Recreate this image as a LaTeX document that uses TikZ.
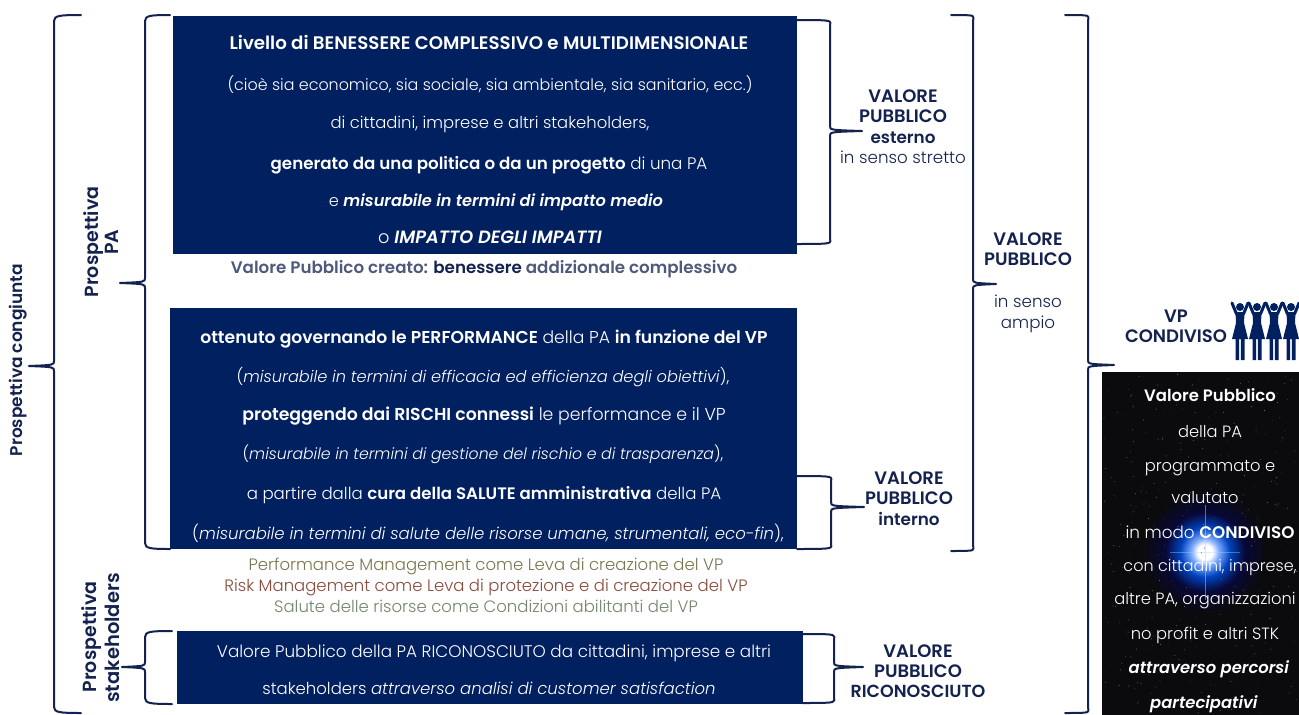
\documentclass[tikz,border=0pt]{standalone}
\usepackage{fontspec}
\setmainfont{Poppins Light}[BoldFont={Poppins SemiBold},ItalicFont={Poppins Light Italic},BoldItalicFont={Poppins SemiBold Italic}]
\usetikzlibrary{shadings,fadings}
\definecolor{navy}{HTML}{002060}
\definecolor{ink}{HTML}{14224F}
\definecolor{mone}{HTML}{7A7650}
\definecolor{mtwo}{HTML}{8A4A3C}
\definecolor{mthree}{HTML}{75866C}
\definecolor{nightbg}{HTML}{0B0B0D}
\pgfdeclareradialshading{glow}{\pgfpoint{0cm}{0cm}}{color(0bp)=(white);color(3bp)=(white);color(5.5bp)=(cyan!35!blue!50!white);color(10bp)=(blue!65!cyan!75!black);color(16bp)=(blue!60!black!30!nightbg);color(25bp)=(nightbg);color(50bp)=(nightbg)}
\tikzset{x=1pt,y=-1pt,
 panel/.style={fill=navy,draw=none},
 brc/.style={draw=ink,line width=2pt,line cap=round,line join=round},
 fs/.style={font=\fontsize{#1}{18}\selectfont},
 base/.style={anchor=base,inner sep=0pt,yshift=-6.5pt},
 wt/.style={base,text=white,fs=16.4},
 lab/.style={base,text=ink,font=\fontsize{18}{18}\selectfont\bfseries},
 sub/.style={base,text=ink,fs=16.7},
 rot/.style={anchor=center,yshift=6.5pt,rotate=90},
 captxt/.style={base,fs=16.5},
 bw/.style={base,text=white,fs=16.3},
 person/.pic={
   \fill[navy] (0,-24) circle (4);
   \fill[navy] (-4.5,-19) -- (4.5,-19) -- (4,-8) -- (8,8) -- (4.5,8) -- (4.5,29) -- (0.9,29) -- (0.9,8) -- (-0.9,8) -- (-0.9,29) -- (-4.5,29) -- (-4.5,8) -- (-8,8) -- (-4,-8) -- cycle;
   \draw[navy,line width=3pt,line cap=round] (-3.5,-17) -- (-8,-28);
   \draw[navy,line width=3pt,line cap=round] (3.5,-17) -- (8,-28);
 }}
\newcommand{\lbrc}[6]{\draw[brc] (#1,#3) .. controls (#2+6,#3) and (#2,#3+0.5) .. (#2,#3+6) -- (#2,#5-5) .. controls (#2,#5-1) .. (#4,#5) .. controls (#2,#5+1) .. (#2,#5+5) -- (#2,#6-6) .. controls (#2,#6-0.5) and (#2+6,#6) .. (#1,#6);}
\begin{document}
\begin{tikzpicture}
\useasboundingbox (0,0) rectangle (1299,715);
\fill[white] (0,0) rectangle (1299,715);
\fill[panel] (173,16) rectangle (797,254);
\fill[panel] (170,308) rectangle (797,549);
\fill[panel] (177,631) rectangle (803,704);
\fill[nightbg] (1102,372) rectangle (1299,715);
\begin{scope}
 \clip (1102,372) rectangle (1299,715);
 \shade[shading=glow] (1205,552) circle (62);
 \fill[white!60!cyan,opacity=0.5] (1204.7,505) rectangle (1205.3,600);
 \fill[white!60!cyan,opacity=0.4] (1170,551.7) rectangle (1240,552.3);
 \pgfmathsetseed{7}
 \foreach \i in {1,...,320}{
   \pgfmathsetmacro{\px}{1104+rnd*193}\pgfmathsetmacro{\py}{374+rnd*339}\pgfmathsetmacro{\pp}{15+rnd*35}
   \fill[white!\pp!black] (\px,\py) circle (0.5);}
\end{scope}
\node[wt,font=\fontsize{18.2}{18}\selectfont\bfseries] (a1) at (489,43) {Livello di BENESSERE COMPLESSIVO e MULTIDIMENSIONALE};
\node[wt,fs=15.9] (a2) at (490,84) {(cioè sia economico, sia sociale, sia ambientale, sia sanitario, ecc.)};
\node[wt] (a3) at (490,122) {di cittadini, imprese e altri stakeholders,};
\node[wt,fs=16.7] (a4) at (489,163) {\textbf{generato da una politica o da un progetto} di una PA};
\node[wt,fs=16.2] (a5) at (496,200) {e \textbf{\textit{misurabile in termini di impatto medio}}};
\node[wt,fs=17.8] (a6) at (490,237) {o \textbf{\textit{IMPATTO DEGLI IMPATTI}}};
\node[captxt,fs=16.7,text=ink!75] (c1) at (484,267) {\bfseries Valore Pubblico creato: {\color{ink}benessere} addizionale complessivo};
\node[wt,fs=17.2] (b1) at (484,337) {\textbf{ottenuto governando le PERFORMANCE} della PA \textbf{in funzione del VP}};
\node[wt,fs=16.2] (b2) at (483,376) {(\textit{misurabile in termini di efficacia ed efficienza degli obiettivi}),};
\node[wt,fs=17.3] (b3) at (484,414) {\textbf{proteggendo dai RISCHI connessi} le performance e il VP};
\node[wt,fs=15.7] (b4) at (483,453) {(\textit{misurabile in termini di gestione del rischio e di trasparenza}),};
\node[wt,fs=16.6] (b5) at (484,493) {a partire dalla \textbf{cura della SALUTE amministrativa} della PA};
\node[wt,fs=16.5] (b6) at (488,533) {(\textit{misurabile in termini di salute delle risorse umane, strumentali, eco-fin}),};
\node[captxt,text=mone] (m1) at (486,564) {Performance Management come Leva di creazione del VP};
\node[captxt,text=mtwo] (m2) at (486,585) {Risk Management come Leva di protezione e di creazione del VP};
\node[captxt,text=mthree] (m3) at (486,606) {Salute delle risorse come Condizioni abilitanti del VP};
\node[wt,fs=16.8] (d1) at (494,651) {Valore Pubblico della PA RICONOSCIUTO da cittadini, imprese e altri};
\node[wt,fs=16.5] (d2) at (489,688) {stakeholders \textit{attraverso analisi di customer satisfaction}};
\node[lab] (e1) at (903,96) {VALORE};
\node[lab] (e2) at (903,116) {PUBBLICO};
\node[lab,font=\fontsize{16.8}{18}\selectfont\bfseries] (e3) at (903,137) {esterno};
\node[sub] (e4) at (903,157) {in senso stretto};
\node[lab] (f1) at (1028,239) {VALORE};
\node[lab] (f2) at (1028,259) {PUBBLICO};
\node[sub] (f3) at (1028,301) {in senso};
\node[sub] (f4) at (1028,322) {ampio};
\node[lab] (g1) at (909,478) {VALORE};
\node[lab] (g2) at (909,498) {PUBBLICO};
\node[lab,font=\fontsize{16.8}{18}\selectfont\bfseries] (g3) at (909,519) {interno};
\node[lab] (h1) at (918,651) {VALORE};
\node[lab] (h2) at (918,671) {PUBBLICO};
\node[lab,font=\fontsize{17.5}{18}\selectfont\bfseries] (h3) at (918,691) {RICONOSCIUTO};
\node[lab] (i1) at (1176,316) {VP};
\node[lab] (i2) at (1176,336) {CONDIVISO};
\node[lab,rot,font=\fontsize{17}{18}\selectfont\bfseries] (r1) at (18,360) {Prospettiva congiunta};
\node[lab,rot,font=\fontsize{19}{18}\selectfont\bfseries] (r2) at (94,242) {Prospettiva};
\node[lab,rot,font=\fontsize{19}{18}\selectfont\bfseries] (r3) at (112,242) {PA};
\node[lab,rot,font=\fontsize{19}{18}\selectfont\bfseries] (r4) at (92,637) {Prospettiva};
\node[lab,rot,font=\fontsize{19.5}{18}\selectfont\bfseries] (r5) at (112,638) {stakeholders};
\node[bw,font=\fontsize{16.5}{18}\selectfont\bfseries] (k1) at (1210,395) {Valore Pubblico};
\node[bw] (k2) at (1210,431) {della PA};
\node[bw] (k3) at (1210,465) {programmato e};
\node[bw] (k4) at (1205,497) {valutato};
\node[bw,fs=16.8] (k5) at (1210,532) {in modo \textbf{CONDIVISO}};
\node[bw,fs=16] (k6) at (1210,565) {con cittadini, imprese,};
\node[bw] (k7) at (1205,598) {altre PA, organizzazioni};
\node[bw] (k8) at (1205,633) {no profit e altri STK};
\node[bw,fs=16.4] (k9) at (1209,667) {\textbf{\textit{attraverso percorsi}}};
\node[bw,fs=16.4] (k10) at (1204,702) {\textbf{\textit{partecipativi}}};
\foreach \x in {1240,1257,1274,1291} \pic at (\x,331) {person};
\lbrc{81}{54}{15}{29}{366}{713}
\lbrc{170}{145}{15}{120}{283}{549}
\lbrc{172}{145}{631}{122}{667}{704}
\lbrc{797}{830}{20}{862}{131}{244}
\lbrc{797}{831}{476}{864}{507}{549}
\lbrc{803}{834}{634}{863}{667}{703}
\lbrc{951}{973}{15}{996}{284}{551}
\lbrc{1065}{1088}{15}{1114}{365}{713}
\end{tikzpicture}
\end{document}
